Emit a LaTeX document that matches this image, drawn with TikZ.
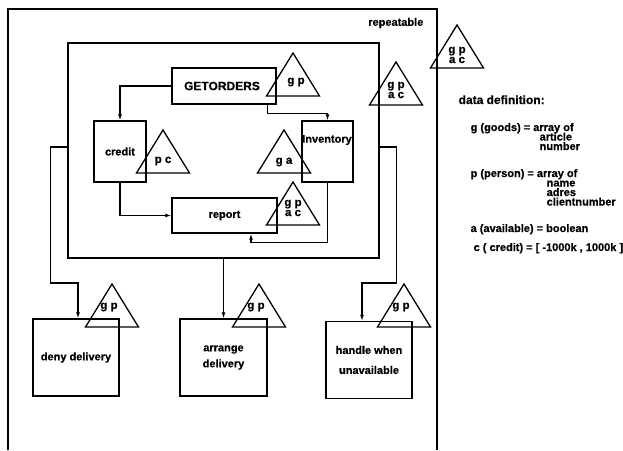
\documentclass[tikz,border=0pt]{standalone}
\usepackage{fontspec}
\setmainfont{Liberation Sans}[BoldFeatures={FakeBold=0.5}]
\usetikzlibrary{arrows.meta,calc}
\newcommand{\mytri}[6]{%
  \draw[tri] (#1,#2) -- ++(-26.5,43) -- ++(53,0) -- cycle;
  \node[tlbl] (#3) at ({#1+#4},{#2+#5}) {#6};}
\begin{document}
\begin{tikzpicture}[x=1pt,y=-1pt,line width=1.3pt,
  box/.style={draw,line width=1.3pt,inner sep=0pt},
  lbl/.style={font=\bfseries\fontsize{11}{12}\selectfont,inner sep=0pt,align=center},
  dlbl/.style={font=\bfseries\fontsize{11}{11}\selectfont,inner sep=0pt,anchor=base west},
  tlbl/.style={font=\bfseries\fontsize{11.5}{10}\selectfont,inner sep=0pt,align=center},
  tri/.style={draw,line width=1.3pt,line join=miter},
  arr/.style={-{Latex[length=6pt,width=4pt]},line width=1.3pt}]
\useasboundingbox (0,0) rectangle (623,450);
\fill[white] (0,0) rectangle (623,450);
% outer repeatable frame
\draw (8,450) -- (8,9) -- (437,9) -- (437,450);
\node[lbl,anchor=east] (rep) at (424,23) {repeatable};
% inner box
\node[box,minimum width=311,minimum height=215] (inner) at (223.5,150.5) {};
% process boxes
\node[box,minimum width=104,minimum height=36] (getorders) at (224,86) {};
\node[lbl,font=\bfseries\fontsize{12}{12}\selectfont] (getordersT) at (222,86) {GETORDERS};
\node[box,lbl,minimum width=52,minimum height=61] (credit) at (120,151.5) {credit};
\node[box,minimum width=51,minimum height=61] (inventory) at (327.5,151.5) {};
\node[lbl] (inventoryT) at (327,140) {Inventory};
\node[box,lbl,minimum width=105,minimum height=35] (report) at (224.5,215.5) {report};
\node[box,lbl,minimum width=86,minimum height=77] (deny) at (76,357.5) {deny delivery};
\node[box,lbl,minimum width=87,minimum height=77] (arrange) at (223.5,357.5) {arrange\\[4pt]delivery};
\node[box,lbl,minimum width=86,minimum height=77] (handle) at (369,360) {handle when\\[8pt]unavailable};
% data triangles
\mytri{293}{53}{tgo}{3}{29}{g p}
\mytri{396}{62}{tin}{0}{28}{g p\\a c}
\mytri{457}{25}{tall}{0}{30}{g p\\a c}
\mytri{163}{130}{tcr}{0}{31}{p c}
\mytri{284}{130}{tiv}{0}{32}{g a}
\mytri{293}{182}{trp}{0}{26}{g p\\a c}
\mytri{112}{284}{tde}{-3}{23}{g p}
\mytri{259}{284}{tar}{-3}{23}{g p}
\mytri{404}{284}{tha}{-3}{23}{g p}
% connectors
\draw[arr] (getorders.west) -| (credit.north);
\draw[arr] ([xshift=-9pt]getorders.south east) -- ++(0,9) -| (inventory.north);
\draw[arr] (credit.south) |- (report.west);
\draw[arr] (inventory.south) -- ++(0,60) -| ([xshift=26.5pt]report.south);
\draw[arr] ([yshift=3.5pt]inner.west) -- ++(-17,0) -- ++(0,136) -| ([xshift=2pt]deny.north);
\draw[arr] (inner.south -| arrange.north) -- (arrange.north);
\draw[arr] ([yshift=3.5pt]inner.east) -- ++(17,0) -- ++(0,136) -| ([xshift=-7pt]handle.north);
% data definition
\node[dlbl,font=\bfseries\fontsize{12}{12}\selectfont] (dd) at (458,104) {data definition:};
\node[dlbl] (d1) at (470,131) {g (goods) = array of};
\node[dlbl] (d1a) at (539,140.5) {article};
\node[dlbl] (d1b) at (539,150) {number};
\node[dlbl] (d2) at (470,177) {p (person) = array of};
\node[dlbl] (d2a) at (546,186.5) {name};
\node[dlbl] (d2b) at (546,196) {adres};
\node[dlbl] (d2c) at (546,205.5) {clientnumber};
\node[dlbl] (d3) at (470,232) {a (available) = boolean};
\node[dlbl] (d4) at (473,251) {c ( credit) = [ -1000k , 1000k ]};
\end{tikzpicture}
\end{document}
